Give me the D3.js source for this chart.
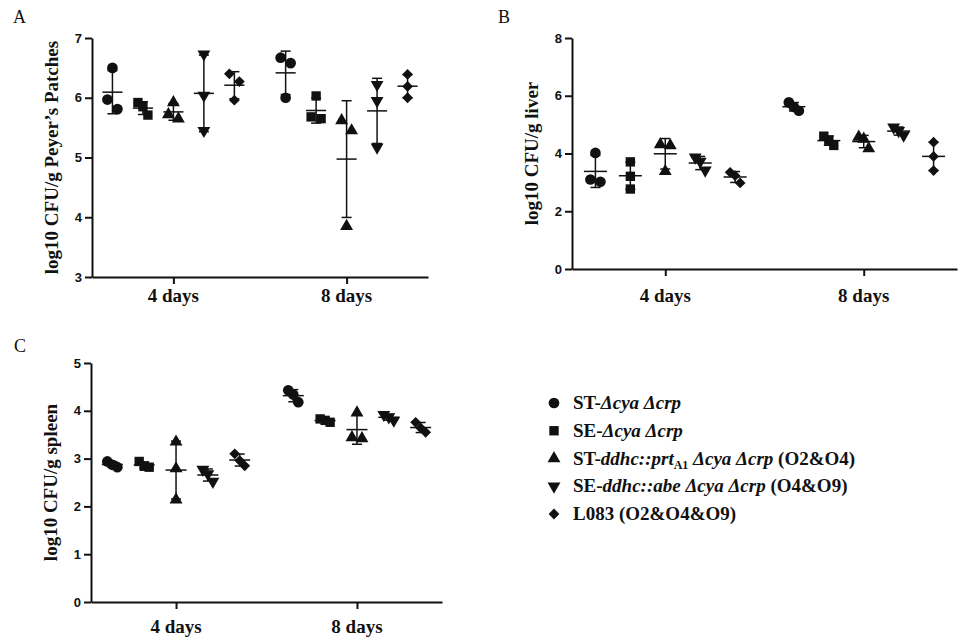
<!DOCTYPE html>
<html>
<head>
<meta charset="utf-8">
<script src="https://cdn.jsdelivr.net/npm/d3@7"></script>
<style>
  body { margin: 0; background: #fff; }
  svg { display: block; }
  .tick text { font-family: "Liberation Sans", Arial, sans-serif; font-weight: bold; font-size: 13px; fill: #111; }
  .lbl { font-family: "Liberation Serif", "Times New Roman", serif; font-weight: bold; font-size: 19px; fill: #111; }
  .letter { font-family: "Liberation Serif", "Times New Roman", serif; font-size: 18px; fill: #111; }
</style>
</head>
<body>
<div id="chart"></div>
<script>
// categories
const days = ['4 days', '8 days'];
const strains = ['ST-cya-crp', 'SE-cya-crp', 'ST-ddhc-prt', 'SE-ddhc-abe', 'L083'];

// log10 CFU/g, three mice per strain
const peyers4d = [[6.50, 5.97, 5.81], [5.92, 5.85, 5.71], [5.92, 5.72, 5.65], [6.73, 6.04, 5.45], [6.40, 6.27, 5.96]];
const peyers8d = [[6.67, 6.58, 6.00], [6.03, 5.68, 5.65], [5.62, 5.45, 3.85], [6.22, 5.95, 5.17], [6.39, 6.19, 6.00]];
const liver4d = [[4.02, 3.10, 3.02], [3.71, 3.21, 2.77], [4.31, 4.28, 3.38], [3.87, 3.72, 3.42], [3.35, 3.23, 2.98]];
const liver8d = [[5.77, 5.61, 5.48], [4.60, 4.46, 4.28], [4.57, 4.50, 4.17], [4.91, 4.79, 4.63], [4.39, 3.90, 3.41]];
const spleen4d = [[2.94, 2.87, 2.82], [2.94, 2.84, 2.82], [3.35, 2.79, 2.14], [2.77, 2.68, 2.52], [3.10, 2.96, 2.85]];
const spleen8d = [[4.43, 4.34, 4.18], [3.83, 3.80, 3.76], [3.96, 3.44, 3.42], [3.92, 3.87, 3.80], [3.76, 3.64, 3.55]];

// axis ticks
const peyersTicks = [3, 4, 5, 6, 7];
const liverTicks = [0, 2, 4, 6, 8];
const spleenTicks = [0, 1, 2, 3, 4, 5];

const width = 960, height = 638;

const svg = d3.select('#chart')
    .append('svg')
    .attr('width', width)
    .attr('height', height);

// marker shapes, one per strain
const markers = [
  {type: d3.symbolCircle, size: 90, rotate: 0},
  {type: d3.symbolSquare, size: 88, rotate: 0},
  {type: d3.symbolTriangle, size: 72, rotate: 0},
  {type: d3.symbolTriangle, size: 72, rotate: 180},
  {type: d3.symbolSquare, size: 58, rotate: 45}
];

function symbolPath(i) {
  return d3.symbol().type(markers[i].type).size(markers[i].size)();
}

// spread points of one group sideways when they overlap, like a scatter dot plot
function spread(vals, y) {
  const order = d3.range(vals.length).sort((a, b) => vals[b] - vals[a]);
  const clusters = [];
  let cur = [order[0]];
  for (let k = 1; k < order.length; k++) {
    if (y(vals[order[k]]) - y(vals[order[k - 1]]) < 11) {
      cur.push(order[k]);
    } else {
      clusters.push(cur);
      cur = [order[k]];
    }
  }
  clusters.push(cur);
  const off = vals.map(() => 0);
  clusters.forEach(c => {
    if (c.length > 1) c.forEach((idx, j) => { off[idx] = -5 + 10 * j / (c.length - 1); });
  });
  return off;
}

function panel({letter, lx, ly, x0, x1, top, bottom, domain, ticks, data, title, labelDy}) {
  const g = svg.append('g');

  const y = d3.scaleLinear().domain(domain).range([bottom, top]);
  const xDay = d3.scalePoint().domain(days).range([x0, x1]).padding(0.47);
  const step = xDay.step();
  const xStrain = d3.scalePoint().domain(strains).range([-0.352 * step, 0.352 * step]);
  const meanHalf = 0.058 * step;
  const capHalf = 5;

  // axes
  const yAxis = g.append('g')
      .attr('transform', `translate(${x0},0)`)
      .call(d3.axisLeft(y).tickValues(ticks).tickFormat(d3.format('d')).tickSize(7).tickSizeOuter(0).tickPadding(3));
  const xAxis = g.append('g')
      .attr('transform', `translate(0,${bottom})`)
      .call(d3.axisBottom(xDay).tickSize(7).tickSizeOuter(0).tickFormat(''));
  [yAxis, xAxis].forEach(a => {
    a.select('.domain').attr('stroke', '#111').attr('stroke-width', 2);
    a.selectAll('.tick line').attr('stroke', '#111').attr('stroke-width', 2);
  });

  g.selectAll('.daylabel')
      .data(days)
      .join('text')
      .attr('class', 'lbl')
      .attr('x', d => xDay(d))
      .attr('y', bottom + labelDy)
      .attr('text-anchor', 'middle')
      .text(d => d);

  g.append('text')
      .attr('class', 'lbl')
      .attr('transform', `translate(${x0 - 34},${(top + bottom) / 2}) rotate(-90)`)
      .attr('text-anchor', 'middle')
      .text(title);

  g.append('text')
      .attr('class', 'letter')
      .attr('x', lx)
      .attr('y', ly)
      .text(letter);

  // groups: one per day and strain
  data.forEach((dayData, di) => {
    dayData.forEach((vals, si) => {
      const cx = xDay(days[di]) + xStrain(strains[si]);
      const off = spread(vals, y);

      g.append('g').selectAll('path')
          .data(vals)
          .join('path')
          .attr('d', symbolPath(si))
          .attr('fill', '#111')
          .attr('transform', (v, i) => `translate(${cx + off[i]},${y(v)}) rotate(${markers[si].rotate})`);

      const m = d3.mean(vals);
      const sd = d3.deviation(vals);
      const bar = g.append('g').attr('stroke', '#111').attr('stroke-width', 1.5).attr('fill', 'none');
      bar.append('line')
          .attr('x1', cx - meanHalf).attr('x2', cx + meanHalf)
          .attr('y1', y(m)).attr('y2', y(m));
      bar.append('line')
          .attr('x1', cx).attr('x2', cx)
          .attr('y1', y(m - sd)).attr('y2', y(m + sd));
      [m - sd, m + sd].forEach(v => {
        bar.append('line')
            .attr('x1', cx - capHalf).attr('x2', cx + capHalf)
            .attr('y1', y(v)).attr('y2', y(v));
      });
    });
  });
}

panel({
  letter: 'A', lx: 13, ly: 23,
  x0: 92, x1: 428, top: 38, bottom: 277,
  domain: [3, 7], ticks: peyersTicks,
  data: [peyers4d, peyers8d],
  title: 'log10 CFU/g Peyer\u2019s Patches', labelDy: 25
});

panel({
  letter: 'B', lx: 498, ly: 23,
  x0: 572, x1: 957, top: 38, bottom: 269,
  domain: [0, 8], ticks: liverTicks,
  data: [liver4d, liver8d],
  title: 'log10 CFU/g liver', labelDy: 33
});

panel({
  letter: 'C', lx: 14, ly: 352,
  x0: 91, x1: 442, top: 363, bottom: 602,
  domain: [0, 5], ticks: spleenTicks,
  data: [spleen4d, spleen8d],
  title: 'log10 CFU/g spleen', labelDy: 31
});

// legend
const legendRows = [
  [{t: 'ST-'}, {t: '\u0394cya \u0394crp', i: true}],
  [{t: 'SE-'}, {t: '\u0394cya \u0394crp', i: true}],
  [{t: 'ST-'}, {t: 'ddhc::prt', i: true}, {t: 'A1', sub: true}, {t: ' \u0394cya \u0394crp', i: true, up: true}, {t: ' (O2&O4)'}],
  [{t: 'SE-'}, {t: 'ddhc::abe \u0394cya \u0394crp', i: true}, {t: ' (O4&O9)'}],
  [{t: 'L083 (O2&O4&O9)'}]
];
const legendY = d3.scalePoint().domain(d3.range(legendRows.length)).range([403, 514]);

const legend = svg.append('g');
legendRows.forEach((row, ri) => {
  const cy = legendY(ri);
  legend.append('path')
      .attr('d', symbolPath(ri))
      .attr('fill', '#111')
      .attr('transform', `translate(554,${cy}) rotate(${markers[ri].rotate})`);
  const txt = legend.append('text')
      .attr('class', 'lbl')
      .attr('x', 573)
      .attr('y', cy + 6);
  row.forEach(part => {
    const ts = txt.append('tspan').text(part.t);
    if (part.i) ts.attr('font-style', 'italic');
    if (part.sub) ts.attr('font-size', '12px').attr('dy', 4);
    if (part.up) ts.attr('dy', -4);
  });
});
</script>
</body>
</html>
